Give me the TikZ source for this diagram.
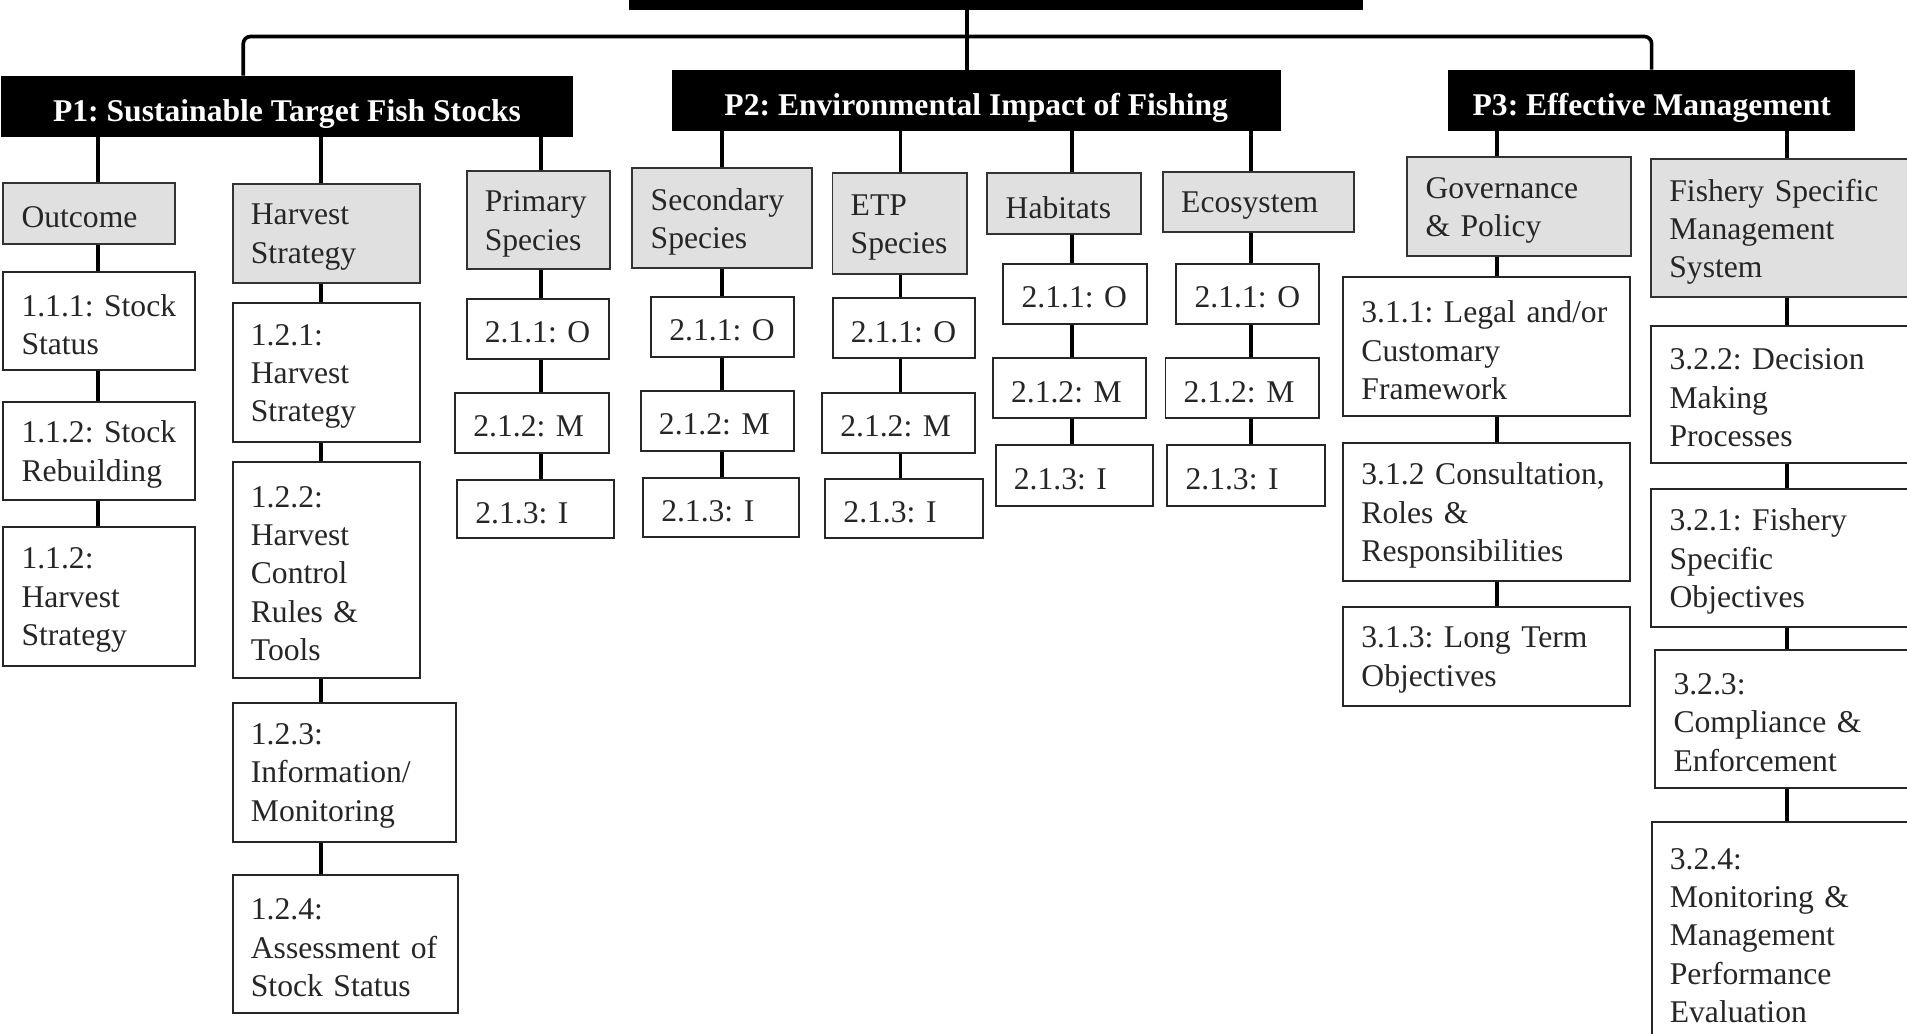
\documentclass[tikz,border=0pt]{standalone}
\usepackage{fontspec}
\setmainfont{Liberation Serif}
\frenchspacing
\newcommand\mybox[7]{%
  \pgfmathsetmacro\bxw{(#5-#3)*0.5}%
  \pgfmathsetmacro\bxh{(#6-#4)*0.5}%
  \pgfmathsetmacro\bxt{\bxw-15}%
  \node[#1, minimum width=\bxw pt, minimum height=\bxh pt] (#2) at ({(#3+#5)/2},{(#4+#6)/2}) {};%
  \node[boxtext, text width=\bxt pt] (#2t) at ([yshift=-1.5pt]#2.center) {#7};%
}
\newcommand\myhead[6]{%
  \pgfmathsetmacro\bxw{(#4-#2)*0.5}%
  \pgfmathsetmacro\bxh{(#5-#3)*0.5}%
  \node[hdr, minimum width=\bxw pt, minimum height=\bxh pt] (#1) at ({(#2+#4)/2},{(#3+#5)/2}) {};%
  \node[hdrtext] (#1t) at ([yshift=-3pt]#1.center) {#6};%
}
\tikzset{
  hdr/.style={fill=black, inner sep=0pt},
  hdrtext/.style={text=white, inner sep=0pt, font=\bfseries\fontsize{13}{15.75}\selectfont},
  boxtext/.style={align=left, inner sep=0pt, font=\fontsize{13}{15.75}\selectfont, text=black!85},
  grp/.style={draw=black!80, fill=black!12, line width=0.8pt, inner sep=0pt},
  leaf/.style={draw=black!85, fill=white, line width=0.8pt, inner sep=0pt},
  conn/.style={line width=1.5pt, black}
}
\begin{document}
\begin{tikzpicture}[x=0.5pt, y=-0.5pt]
\useasboundingbox (0,0) rectangle (1568,850);
\clip (0,0) rectangle (1568,850);
\fill[white] (0,0) rectangle (1568,850);
% column coordinates
\coordinate (cTop) at (795,0);
\coordinate (cL) at (200,0);
\coordinate (cR) at (1358,0);
\coordinate (cBus) at (795,30);
\coordinate (cOut) at (80.5,0);
\coordinate (cHS) at (264,0);
\coordinate (cPr) at (445,0);
\coordinate (cSe) at (593.5,0);
\coordinate (cEt) at (740.5,0);
\coordinate (cHa) at (881.5,0);
\coordinate (cEc) at (1028.5,0);
\coordinate (cGo) at (1231,0);
\coordinate (cFs) at (1469.5,0);
% headers
\myhead{std}{517}{-40}{1121}{8}{}
\myhead{P1}{1}{62.5}{471}{112.4}{P1: Sustainable Target Fish Stocks}
\myhead{P2}{552.4}{57.6}{1053}{107.5}{P2: Environmental Impact of Fishing}
\myhead{P3}{1190.6}{57.6}{1525.6}{107.5}{P3: Effective Management}
% grey group boxes
\mybox{grp}{out}{2.7}{150.7}{143.6}{200.6}{Outcome}
\mybox{grp}{hs}{191.3}{151.5}{345.7}{232.4}{Harvest\\Strategy}
\mybox{grp}{prim}{383.6}{140.6}{501.7}{221.4}{Primary\\Species}
\mybox{grp}{sec}{520}{138.4}{668}{220.6}{Secondary\\Species}
\mybox{grp}{etp}{684.5}{142.5}{795.3}{225.3}{ETP\\Species}
\mybox{grp}{hab}{811.9}{142.5}{937.9}{192.7}{Habitats}
\mybox{grp}{eco}{956.2}{141.7}{1113.4}{191}{Ecosystem}
\mybox{grp}{gov}{1157.1}{129.4}{1340.7}{210.5}{Governance\\\&~Policy}
\mybox{grp}{fsm}{1357.6}{131}{1590}{244}{Fishery~Specific\\Management\\System}
% P1 leaves
\mybox{leaf}{a111}{2.7}{223.4}{160.4}{304.2}{1.1.1:~Stock\\Status}
\mybox{leaf}{a112}{2.7}{330.3}{160.4}{411.1}{1.1.2:~Stock\\Rebuilding}
\mybox{leaf}{a113}{2.7}{433}{160.4}{547.6}{1.1.2:\\Harvest\\Strategy}
\mybox{leaf}{b121}{191.3}{249.4}{345.7}{363.7}{1.2.1:\\Harvest\\Strategy}
\mybox{leaf}{b122}{191.3}{379.6}{345.7}{557.7}{1.2.2:\\Harvest\\Control\\Rules~\&\\Tools}
\mybox{leaf}{b123}{191.3}{577.8}{374.9}{692}{1.2.3:\\Information/\\Monitoring}
\mybox{leaf}{b124}{191.3}{719.5}{376.6}{833.2}{1.2.4:\\Assessment~of\\Stock~Status}
\mybox{leaf}{pO}{383.6}{245.8}{501}{295.2}{2.1.1:~O}
\mybox{leaf}{pM}{374.2}{323.4}{501}{372.2}{2.1.2:~M}
\mybox{leaf}{pI}{375.9}{394.7}{505}{442.6}{2.1.3:~I}
% P2 leaves
\mybox{leaf}{sO}{535.4}{243.9}{652.5}{293.3}{2.1.1:~O}
\mybox{leaf}{sM}{526.8}{321.5}{652.5}{370.8}{2.1.2:~M}
\mybox{leaf}{sI}{528.7}{392.8}{657}{441.8}{2.1.3:~I}
\mybox{leaf}{eO}{684.6}{245.3}{801.6}{294.6}{2.1.1:~O}
\mybox{leaf}{eM}{675.9}{323.4}{801.6}{372.2}{2.1.2:~M}
\mybox{leaf}{eI}{678.5}{394.1}{808}{442.6}{2.1.3:~I}
\mybox{leaf}{hO}{825}{217}{942.8}{266.4}{2.1.1:~O}
\mybox{leaf}{hM}{816.3}{294.6}{941.9}{344}{2.1.2:~M}
\mybox{leaf}{hI}{818.6}{365.9}{947.7}{416}{2.1.3:~I}
\mybox{leaf}{kO}{967.3}{217}{1084.4}{266.4}{2.1.1:~O}
\mybox{leaf}{kM}{958.3}{294.6}{1084.4}{344}{2.1.2:~M}
\mybox{leaf}{kI}{959.8}{365.6}{1089.3}{416}{2.1.3:~I}
% P3 leaves
\mybox{leaf}{g311}{1104.4}{228}{1340.2}{342}{3.1.1:~Legal~and/or\\Customary\\Framework}
\mybox{leaf}{g312}{1104.4}{364}{1340.2}{477.7}{3.1.2~Consultation,\\Roles~\&\\Responsibilities}
\mybox{leaf}{g313}{1104.4}{498.8}{1340.2}{580.2}{3.1.3:~Long~Term\\Objectives}
\mybox{leaf}{f322}{1357.8}{267.8}{1590}{380.4}{3.2.2:~Decision\\Making\\Processes}
\mybox{leaf}{f321}{1357.8}{402.3}{1590}{515.3}{3.2.1:~Fishery\\Specific\\Objectives}
\mybox{leaf}{f323}{1361}{534.4}{1590}{647.6}{3.2.3:\\Compliance~\&\\Enforcement}
\mybox{leaf}{f324}{1358}{675.6}{1590}{857}{3.2.4:\\Monitoring~\&\\Management\\Performance\\Evaluation}
% connectors
\draw[conn] (std.south -| cTop) -- (P2.north -| cTop);
\draw[conn, rounded corners=3pt] (P1.north -| cL) |- (cBus) -| (P3.north -| cR);
\foreach \a/\b/\c in {P1/out/cOut, out/a111/cOut, a111/a112/cOut, a112/a113/cOut,
  P1/hs/cHS, hs/b121/cHS, b121/b122/cHS, b122/b123/cHS, b123/b124/cHS,
  P1/prim/cPr, prim/pO/cPr, pO/pM/cPr, pM/pI/cPr,
  P2/sec/cSe, sec/sO/cSe, sO/sM/cSe, sM/sI/cSe,
  P2/etp/cEt, etp/eO/cEt, eO/eM/cEt, eM/eI/cEt,
  P2/hab/cHa, hab/hO/cHa, hO/hM/cHa, hM/hI/cHa,
  P2/eco/cEc, eco/kO/cEc, kO/kM/cEc, kM/kI/cEc,
  P3/gov/cGo, gov/g311/cGo, g311/g312/cGo, g312/g313/cGo,
  P3/fsm/cFs, fsm/f322/cFs, f322/f321/cFs, f321/f323/cFs, f323/f324/cFs}
  \draw[conn] (\a.south -| \c) -- (\b.north -| \c);
\end{tikzpicture}
\end{document}
